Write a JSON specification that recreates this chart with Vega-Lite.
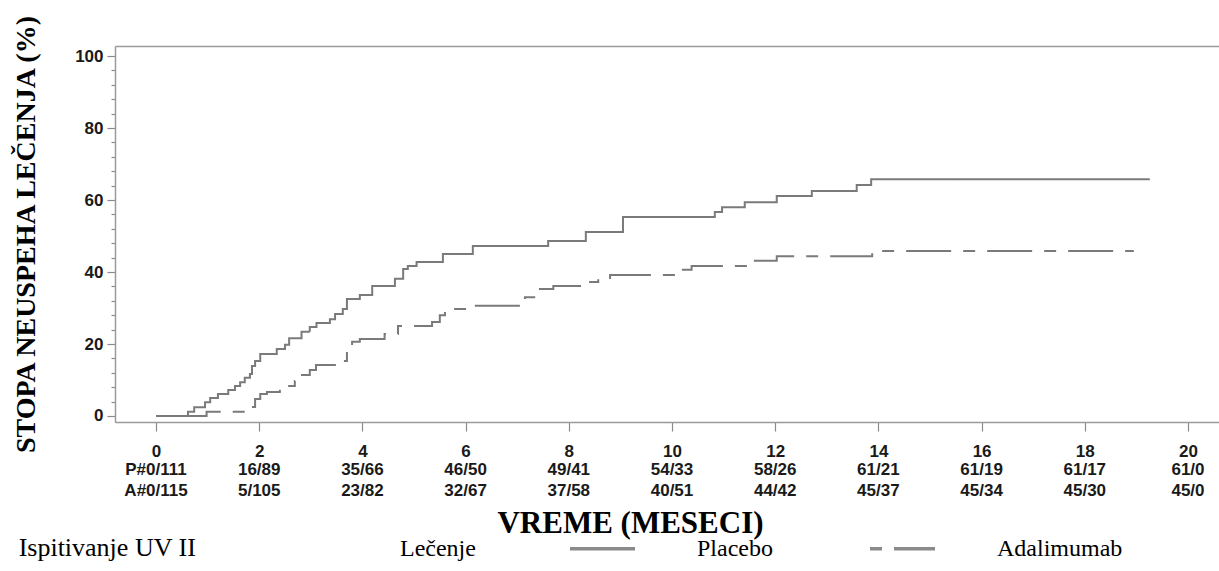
{
  "$schema": "https://vega.github.io/schema/vega-lite/v6.json",
  "background": "white",
  "padding": {"left": 12, "top": 13, "right": 0, "bottom": 0},
  "spacing": 0,
  "config": {
    "view": {"stroke": null},
    "axis": {"grid": false}
  },
  "title": {
    "text": "Ispitivanje UV II",
    "orient": "bottom",
    "anchor": "start",
    "frame": "bounds",
    "font": "Liberation Serif",
    "fontSize": 26,
    "fontWeight": "normal",
    "color": "black",
    "offset": -26,
    "dx": 6
  },
  "datasets": {
    "curves": [
      {"arm": "Placebo", "t": 0, "v": 0},
      {"arm": "Placebo", "t": 0.62, "v": 1.2},
      {"arm": "Placebo", "t": 0.74, "v": 2.4},
      {"arm": "Placebo", "t": 0.95, "v": 3.8},
      {"arm": "Placebo", "t": 1.05, "v": 5.0},
      {"arm": "Placebo", "t": 1.2, "v": 6.1},
      {"arm": "Placebo", "t": 1.4, "v": 7.2},
      {"arm": "Placebo", "t": 1.53, "v": 8.3},
      {"arm": "Placebo", "t": 1.63, "v": 9.4},
      {"arm": "Placebo", "t": 1.72, "v": 10.6},
      {"arm": "Placebo", "t": 1.82, "v": 11.7},
      {"arm": "Placebo", "t": 1.86, "v": 13.9},
      {"arm": "Placebo", "t": 1.92, "v": 15.3},
      {"arm": "Placebo", "t": 2.02, "v": 17.2},
      {"arm": "Placebo", "t": 2.34, "v": 18.6},
      {"arm": "Placebo", "t": 2.5, "v": 19.8},
      {"arm": "Placebo", "t": 2.58, "v": 21.6},
      {"arm": "Placebo", "t": 2.82, "v": 23.4},
      {"arm": "Placebo", "t": 2.98, "v": 24.7},
      {"arm": "Placebo", "t": 3.11, "v": 25.8},
      {"arm": "Placebo", "t": 3.37, "v": 26.9},
      {"arm": "Placebo", "t": 3.47, "v": 28.3},
      {"arm": "Placebo", "t": 3.62, "v": 29.7},
      {"arm": "Placebo", "t": 3.7, "v": 32.5},
      {"arm": "Placebo", "t": 3.95, "v": 33.6},
      {"arm": "Placebo", "t": 4.19, "v": 36.1},
      {"arm": "Placebo", "t": 4.63, "v": 38.1},
      {"arm": "Placebo", "t": 4.79, "v": 40.8},
      {"arm": "Placebo", "t": 4.88, "v": 41.7},
      {"arm": "Placebo", "t": 5.05, "v": 42.8},
      {"arm": "Placebo", "t": 5.56, "v": 45.0},
      {"arm": "Placebo", "t": 6.14, "v": 47.2},
      {"arm": "Placebo", "t": 7.6, "v": 48.6},
      {"arm": "Placebo", "t": 8.33, "v": 51.1},
      {"arm": "Placebo", "t": 9.05, "v": 55.3},
      {"arm": "Placebo", "t": 10.83, "v": 56.7},
      {"arm": "Placebo", "t": 10.97, "v": 58.0},
      {"arm": "Placebo", "t": 11.41, "v": 59.4},
      {"arm": "Placebo", "t": 12.03, "v": 61.1},
      {"arm": "Placebo", "t": 12.71, "v": 62.5},
      {"arm": "Placebo", "t": 13.58, "v": 64.2},
      {"arm": "Placebo", "t": 13.86, "v": 65.8},
      {"arm": "Placebo", "t": 19.26, "v": 65.8},
      {"arm": "Adalimumab", "t": 0, "v": 0},
      {"arm": "Adalimumab", "t": 0.98, "v": 1.2},
      {"arm": "Adalimumab", "t": 1.86, "v": 2.5},
      {"arm": "Adalimumab", "t": 1.92, "v": 4.7},
      {"arm": "Adalimumab", "t": 2.02, "v": 6.1},
      {"arm": "Adalimumab", "t": 2.15, "v": 6.7},
      {"arm": "Adalimumab", "t": 2.4, "v": 8.3},
      {"arm": "Adalimumab", "t": 2.69, "v": 9.7},
      {"arm": "Adalimumab", "t": 2.79, "v": 11.4},
      {"arm": "Adalimumab", "t": 2.98, "v": 12.8},
      {"arm": "Adalimumab", "t": 3.1, "v": 14.2},
      {"arm": "Adalimumab", "t": 3.5, "v": 15.3},
      {"arm": "Adalimumab", "t": 3.7, "v": 19.0},
      {"arm": "Adalimumab", "t": 3.8, "v": 20.6},
      {"arm": "Adalimumab", "t": 3.95, "v": 21.4},
      {"arm": "Adalimumab", "t": 4.43, "v": 22.8},
      {"arm": "Adalimumab", "t": 4.69, "v": 25.0},
      {"arm": "Adalimumab", "t": 5.35, "v": 26.1},
      {"arm": "Adalimumab", "t": 5.5, "v": 28.0},
      {"arm": "Adalimumab", "t": 5.6, "v": 29.7},
      {"arm": "Adalimumab", "t": 5.99, "v": 30.6},
      {"arm": "Adalimumab", "t": 7.15, "v": 33.0},
      {"arm": "Adalimumab", "t": 7.38, "v": 35.3},
      {"arm": "Adalimumab", "t": 7.7, "v": 36.1},
      {"arm": "Adalimumab", "t": 8.35, "v": 37.2},
      {"arm": "Adalimumab", "t": 8.57, "v": 38.3},
      {"arm": "Adalimumab", "t": 8.8, "v": 39.2},
      {"arm": "Adalimumab", "t": 10.16, "v": 40.6},
      {"arm": "Adalimumab", "t": 10.38, "v": 41.7},
      {"arm": "Adalimumab", "t": 11.48, "v": 43.1},
      {"arm": "Adalimumab", "t": 12.03, "v": 44.4},
      {"arm": "Adalimumab", "t": 13.88, "v": 45.8},
      {"arm": "Adalimumab", "t": 18.95, "v": 45.8}
    ],
    "atrisk": [
      {"t": 0, "row": "P", "label": "P#0/111"},
      {"t": 2, "row": "P", "label": "16/89"},
      {"t": 4, "row": "P", "label": "35/66"},
      {"t": 6, "row": "P", "label": "46/50"},
      {"t": 8, "row": "P", "label": "49/41"},
      {"t": 10, "row": "P", "label": "54/33"},
      {"t": 12, "row": "P", "label": "58/26"},
      {"t": 14, "row": "P", "label": "61/21"},
      {"t": 16, "row": "P", "label": "61/19"},
      {"t": 18, "row": "P", "label": "61/17"},
      {"t": 20, "row": "P", "label": "61/0"},
      {"t": 0, "row": "A", "label": "A#0/115"},
      {"t": 2, "row": "A", "label": "5/105"},
      {"t": 4, "row": "A", "label": "23/82"},
      {"t": 6, "row": "A", "label": "32/67"},
      {"t": 8, "row": "A", "label": "37/58"},
      {"t": 10, "row": "A", "label": "40/51"},
      {"t": 12, "row": "A", "label": "44/42"},
      {"t": 14, "row": "A", "label": "45/37"},
      {"t": 16, "row": "A", "label": "45/34"},
      {"t": 18, "row": "A", "label": "45/30"},
      {"t": 20, "row": "A", "label": "45/0"}
    ]
  },
  "vconcat": [
    {
      "width": 1106,
      "height": 376,
      "data": {"name": "curves"},
      "resolve": {"axis": {"x": "independent"}},
      "layer": [
        {
          "mark": {"type": "line", "interpolate": "step-after", "strokeWidth": 2, "color": "#7a7a7a"},
          "encoding": {
            "x": {
              "field": "t", "type": "quantitative",
              "scale": {"domain": [-0.795, 20.64], "nice": false, "zero": false},
              "axis": {
                "values": [0, 2, 4, 6, 8, 10, 12, 14, 16, 18, 20],
                "title": null,
                "domainColor": "#9a9a9a", "domainWidth": 1.5,
                "tickColor": "#8a8a8a", "tickSize": 9, "tickWidth": 1.2,
                "labelFont": "Liberation Sans", "labelFontSize": 17, "labelFontWeight": "bold",
                "labelColor": "#1a1a1a", "labelPadding": 12
              }
            },
            "y": {
              "field": "v", "type": "quantitative",
              "scale": {"domain": [-1.667, 102.78], "nice": false, "zero": false},
              "axis": {
                "values": [0, 4, 8, 12, 16, 20, 24, 28, 32, 36, 40, 44, 48, 52, 56, 60, 64, 68, 72, 76, 80, 84, 88, 92, 96, 100],
                "labelExpr": "datum.value % 20 === 0 ? datum.label : ''",
                "tickSize": {"condition": {"test": "datum.value % 20 === 0", "value": 8}, "value": 4},
                "tickColor": "#8a8a8a", "tickWidth": 1.2,
                "domainColor": "#9a9a9a", "domainWidth": 1.5,
                "labelFont": "Liberation Sans", "labelFontSize": 17, "labelFontWeight": "bold",
                "labelColor": "#1a1a1a", "labelPadding": 4,
                "title": "STOPA NEUSPEHA LEČENJA (%)",
                "titleFont": "Liberation Serif", "titleFontSize": 28, "titleFontWeight": "bold",
                "titleColor": "black", "titlePadding": 34
              }
            },
            "strokeDash": {
              "field": "arm", "type": "nominal",
              "scale": {"domain": ["Placebo", "Adalimumab"], "range": [[1, 0], [12, 12, 45, 12]]},
              "legend": {
                "title": "Lečenje",
                "orient": "none",
                "legendX": 285,
                "legendY": 468,
                "direction": "horizontal",
                "titleOrient": "left",
                "titleAnchor": "middle",
                "titleBaseline": "top",
                "titleFont": "Liberation Serif", "titleFontSize": 24, "titleFontWeight": "normal", "titleColor": "black",
                "titlePadding": 92,
                "labelFont": "Liberation Serif", "labelFontSize": 24, "labelColor": "black",
                "symbolType": "stroke", "symbolSize": 4225, "symbolStrokeWidth": 3.5,
                "symbolStrokeColor": "#8a8a8a",
                "labelOffset": 60, "columnPadding": 90
              }
            }
          }
        },
        {
          "mark": {"type": "line", "opacity": 0},
          "encoding": {
            "x": {
              "field": "t", "type": "quantitative",
              "axis": {
                "orient": "top", "title": null, "labels": false, "ticks": false,
                "domainColor": "#9a9a9a", "domainWidth": 1.5
              }
            }
          }
        }
      ]
    },
    {
      "width": 1106,
      "height": 42,
      "data": {"name": "atrisk"},
      "mark": {"type": "text", "font": "Liberation Sans", "fontSize": 17, "fontWeight": "bold", "color": "#1a1a1a", "baseline": "middle", "align": "center"},
      "encoding": {
        "x": {
          "field": "t", "type": "quantitative",
          "scale": {"domain": [-0.795, 20.64], "nice": false, "zero": false},
          "axis": {
            "domain": false, "ticks": false, "labels": false,
            "title": "VREME (MESECI)",
            "titleFont": "Liberation Serif", "titleFontSize": 31, "titleFontWeight": "bold",
            "titleColor": "black", "titlePadding": 7, "titleX": 515
          }
        },
        "y": {
          "field": "row", "type": "nominal",
          "scale": {"domain": ["P", "A"], "paddingInner": 0, "paddingOuter": 0},
          "axis": null
        },
        "text": {"field": "label"}
      }
    }
  ]
}
